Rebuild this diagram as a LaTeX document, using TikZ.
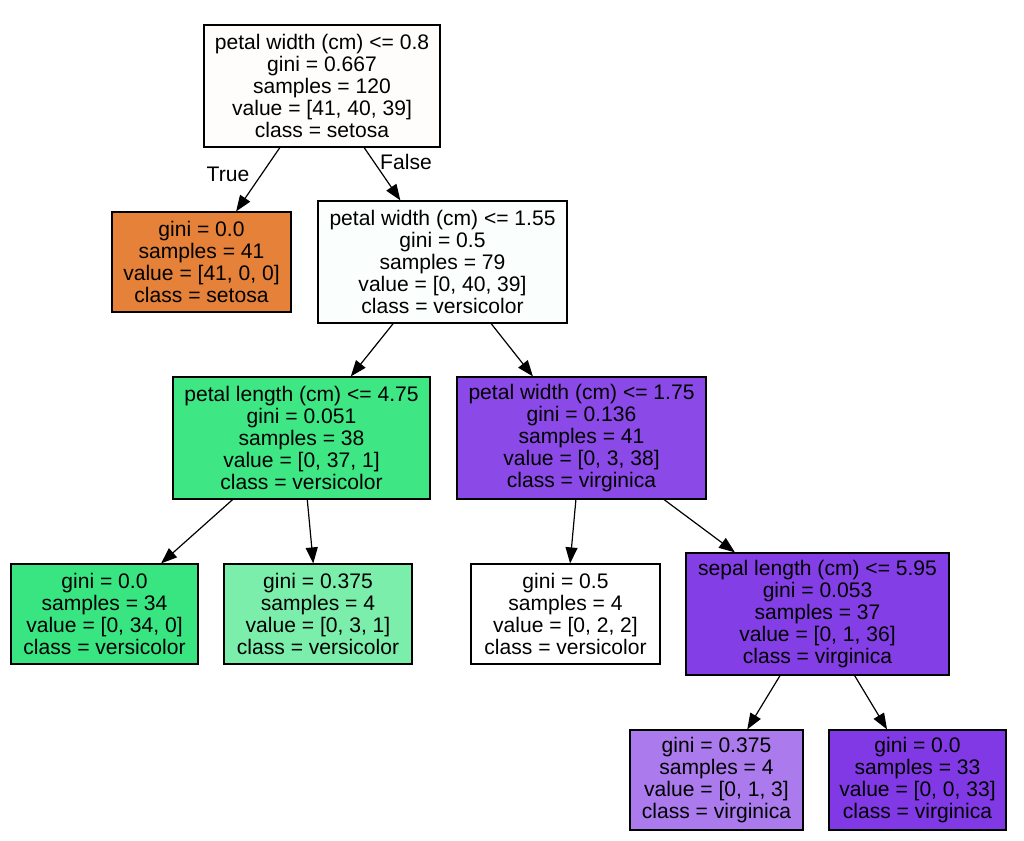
\documentclass[tikz,border=0pt]{standalone}
\usepackage{fontspec}
\setmainfont{Liberation Sans}
\usetikzlibrary{arrows.meta}
\definecolor{rootfill}{HTML}{FFFDFC}
\definecolor{setosa}{HTML}{E58139}
\definecolor{splitA}{HTML}{FAFEFC}
\definecolor{splitB}{HTML}{3EE684}
\definecolor{splitC}{HTML}{8B49E7}
\definecolor{splitD}{HTML}{843EE6}
\definecolor{versA}{HTML}{39E581}
\definecolor{versB}{HTML}{7BEEAB}
\definecolor{virgA}{HTML}{AB7BEE}
\definecolor{virgB}{HTML}{8139E5}
\begin{document}
\begin{tikzpicture}[x=0.75pt,y=-0.75pt,>={Triangle[length=12pt,width=9pt]},
  box/.style={draw,line width=0.9pt,align=center,inner sep=0pt,
    minimum height=91.5pt,font=\fontsize{15.8}{16.6}\selectfont},
  leaf/.style={box,minimum height=75pt},
  edge/.style={->,line width=0.9pt}]
  \useasboundingbox (0,0) rectangle (1024,841);
  % split nodes
  \node[box,fill=rootfill,minimum width=177pt] (root) at (322,86)
    {petal width (cm) <= 0.8\\gini = 0.667\\samples = 120\\value = [41, 40, 39]\\class = setosa};
  \node[box,fill=splitA,minimum width=186.75pt] (pw155) at (442.5,262)
    {petal width (cm) <= 1.55\\gini = 0.5\\samples = 79\\value = [0, 40, 39]\\class = versicolor};
  \node[box,fill=splitB,minimum width=192.75pt] (pl475) at (301.5,438)
    {petal length (cm) <= 4.75\\gini = 0.051\\samples = 38\\value = [0, 37, 1]\\class = versicolor};
  \node[box,fill=splitC,minimum width=186.75pt] (pw175) at (581.5,438)
    {petal width (cm) <= 1.75\\gini = 0.136\\samples = 41\\value = [0, 3, 38]\\class = virginica};
  \node[box,fill=splitD,minimum width=197.25pt] (sl595) at (817.5,614)
    {sepal length (cm) <= 5.95\\gini = 0.053\\samples = 37\\value = [0, 1, 36]\\class = virginica};
  % leaves
  \node[leaf,fill=setosa,minimum width=134.25pt] (setosa41) at (201.5,262)
    {gini = 0.0\\samples = 41\\value = [41, 0, 0]\\class = setosa};
  \node[leaf,fill=versA,minimum width=140.25pt] (vers34) at (104.5,614)
    {gini = 0.0\\samples = 34\\value = [0, 34, 0]\\class = versicolor};
  \node[leaf,fill=versB,minimum width=141pt] (vers4) at (318,614)
    {gini = 0.375\\samples = 4\\value = [0, 3, 1]\\class = versicolor};
  \node[leaf,fill=white,minimum width=141.75pt] (tie4) at (565.5,614)
    {gini = 0.5\\samples = 4\\value = [0, 2, 2]\\class = versicolor};
  \node[leaf,fill=virgA,minimum width=129.75pt] (virg4) at (716.5,780)
    {gini = 0.375\\samples = 4\\value = [0, 1, 3]\\class = virginica};
  \node[leaf,fill=virgB,minimum width=132.75pt] (virg33) at (917.5,780)
    {gini = 0.0\\samples = 33\\value = [0, 0, 33]\\class = virginica};
  % edges
  \draw[edge] (root) -- (setosa41);
  \draw[edge] (root) -- (pw155);
  \draw[edge] (pw155) -- (pl475);
  \draw[edge] (pw155) -- (pw175);
  \draw[edge] (pl475) -- (vers34);
  \draw[edge] (pl475) -- (vers4);
  \draw[edge] (pw175) -- (tie4);
  \draw[edge] (pw175) -- (sl595);
  \draw[edge] (sl595) -- (virg4);
  \draw[edge] (sl595) -- (virg33);
  \node[font=\fontsize{15.8}{16.6}\selectfont] (truelbl) at (228,174) {True};
  \node[font=\fontsize{15.8}{16.6}\selectfont] (falselbl) at (406,162) {False};
\end{tikzpicture}
\end{document}
